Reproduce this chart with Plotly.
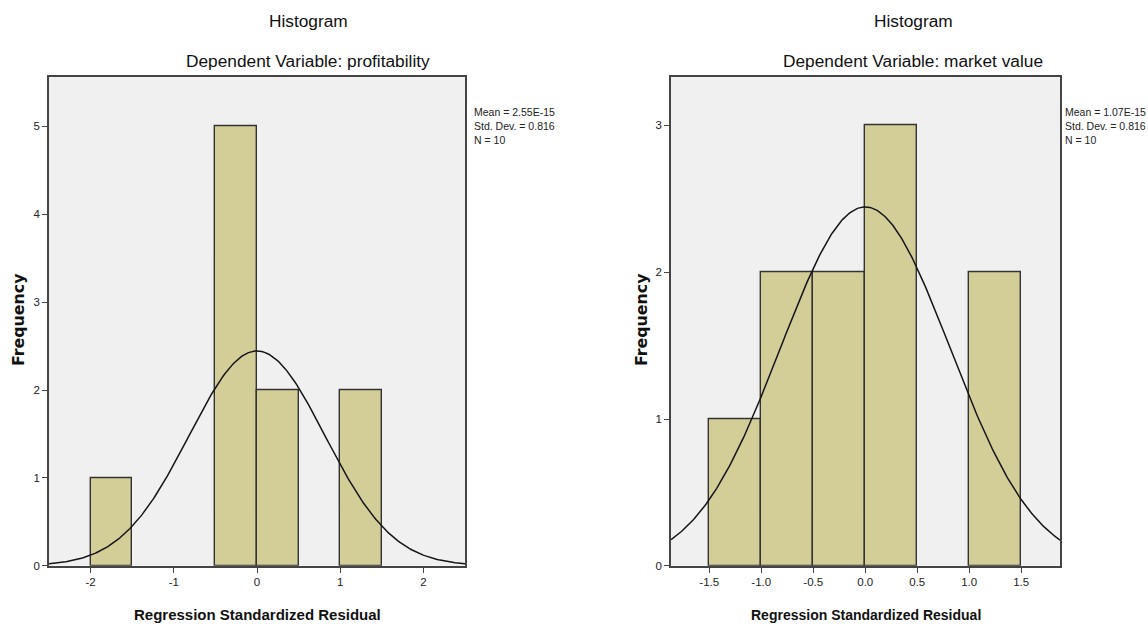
import numpy as np
import plotly.graph_objects as go

W, H = 1148, 632  # the capture squeezes the page height slightly, so draw on 632 px

# ---- data ----
left_bin_left = [-2.0, -0.5, 0.0, 1.0]
left_counts = [1, 5, 2, 2]
left_mean, left_sd, left_n = 2.55e-15, 0.816, 10

right_bin_left = [-1.5, -1.0, -0.5, 0.0, 1.0]
right_counts = [1, 2, 2, 3, 2]
right_mean, right_sd, right_n = 1.07e-15, 0.816, 10

bin_width = 0.5
left_xticks = [-2, -1, 0, 1, 2]
left_xlabels = ["-2", "-1", "0", "1", "2"]
right_xticks = [-1.5, -1.0, -0.5, 0.0, 0.5, 1.0, 1.5]
right_xlabels = ["-1.5", "-1.0", "-0.5", "0.0", "0.5", "1.0", "1.5"]
left_yticks = [0, 1, 2, 3, 4, 5]
right_yticks = [0, 1, 2, 3]

left_titles = ["Histogram", "Dependent Variable: profitability"]
right_titles = ["Histogram", "Dependent Variable: market value"]
x_title = "Regression Standardized Residual"
y_title = "Frequency"

BAR = "#d3ce98"
EDGE = "#333333"
BG = "#f0f0f0"
AX = "#444444"
SANS = "Liberation Sans, Arial, sans-serif"
REF_W, REF_H = 1148, 624


def px(x):
    return x / REF_W


def py(y):
    return 1 - y / REF_H


def normal_curve(lo, hi, mean, sd, n):
    xs = np.linspace(lo, hi, 300)
    ys = n * bin_width / (sd * np.sqrt(2 * np.pi)) * np.exp(-0.5 * ((xs - mean) / sd) ** 2)
    return xs, ys


fig = go.Figure()

panels = [
    dict(bins=left_bin_left, counts=left_counts, mean=left_mean, sd=left_sd, n=left_n,
         xr=[-2.5, 2.5], yr=[0, 5.56], xt=left_xticks, xl=left_xlabels, yt=left_yticks,
         x0=49, x1=465, titles=left_titles, tc=308, leg=472, ytx=18, xts=15),
    dict(bins=right_bin_left, counts=right_counts, mean=right_mean, sd=right_sd, n=right_n,
         xr=[-1.868, 1.873], yr=[0, 3.328], xt=right_xticks, xl=right_xlabels, yt=right_yticks,
         x0=671, x1=1060, titles=right_titles, tc=913, leg=1063, ytx=641, xts=14),
]

top, bottom = 77, 564
annotations = []
layout_axes = {}
for i, p in enumerate(panels):
    sfx = "" if i == 0 else "2"
    centers = [b + bin_width / 2 for b in p["bins"]]
    fig.add_trace(go.Bar(x=centers, y=p["counts"], width=bin_width,
                         marker=dict(color=BAR, line=dict(color=EDGE, width=1.4)),
                         xaxis="x" + sfx, yaxis="y" + sfx, showlegend=False, hoverinfo="x+y"))
    cx, cy = normal_curve(p["xr"][0], p["xr"][1], p["mean"], p["sd"], p["n"])
    fig.add_trace(go.Scatter(x=cx, y=cy, mode="lines", line=dict(color="#151515", width=1.5),
                             xaxis="x" + sfx, yaxis="y" + sfx, showlegend=False, hoverinfo="skip"))
    layout_axes["xaxis" + sfx] = dict(
        domain=[px(p["x0"]), px(p["x1"])], range=p["xr"], anchor="y" + sfx,
        tickmode="array", tickvals=p["xt"], ticktext=p["xl"],
        ticks="outside", ticklen=5, tickcolor=AX, tickwidth=1,
        showline=True, linecolor=AX, linewidth=1.6, mirror=True,
        showgrid=False, zeroline=False,
        tickfont=dict(family=SANS, size=11.5, color="#222"),
    )
    layout_axes["yaxis" + sfx] = dict(
        domain=[py(bottom), py(top)], range=p["yr"], anchor="x" + sfx,
        tickmode="array", tickvals=p["yt"],
        ticks="outside", ticklen=5, tickcolor=AX, tickwidth=1,
        showline=True, linecolor=AX, linewidth=1.6, mirror=True,
        showgrid=False, zeroline=False,
        tickfont=dict(family=SANS, size=11.5, color="#222"),
    )
    annotations.append(dict(text=p["titles"][0], x=px(p["tc"]), y=py(21), xref="paper", yref="paper",
                            showarrow=False, xanchor="center", yanchor="middle",
                            font=dict(family=SANS, size=17.3, color="#111")))
    annotations.append(dict(text=p["titles"][1], x=px(p["tc"]), y=py(61), xref="paper", yref="paper",
                            showarrow=False, xanchor="center", yanchor="middle",
                            font=dict(family=SANS, size=17.3, color="#111")))
    annotations.append(dict(text="<b>" + x_title + "</b>", x=px((p["x0"] + p["x1"]) / 2), y=py(613),
                            xref="paper", yref="paper", showarrow=False, xanchor="center",
                            yanchor="middle", font=dict(family=SANS, size=p["xts"], color="#111")))
    annotations.append(dict(text="<b>" + y_title + "</b>", x=px(p["ytx"]), y=py(319), textangle=-90,
                            xref="paper", yref="paper", showarrow=False, xanchor="center",
                            yanchor="middle", font=dict(family="DejaVu Sans, sans-serif", size=15.8,
                                                        color="#111")))
    stats = ["Mean = " + ("%.2E" % p["mean"]), "Std. Dev. = %.3f" % p["sd"], "N = %d" % p["n"]]
    for j, s in enumerate(stats):
        annotations.append(dict(text=s, x=px(p["leg"]), y=py(111.5 + 14 * j), xref="paper", yref="paper",
                                showarrow=False, xanchor="left", yanchor="middle",
                                font=dict(family=SANS, size=10.5, color="#222")))

fig.update_layout(
    width=W, height=H, margin=dict(l=0, r=0, t=0, b=0),
    paper_bgcolor="white", plot_bgcolor=BG,
    annotations=annotations, bargap=0, **layout_axes,
)

fig.write_html("out.html", config={"displayModeBar": False},
               post_script="document.body.style.margin='0';document.body.style.overflow='hidden';")
